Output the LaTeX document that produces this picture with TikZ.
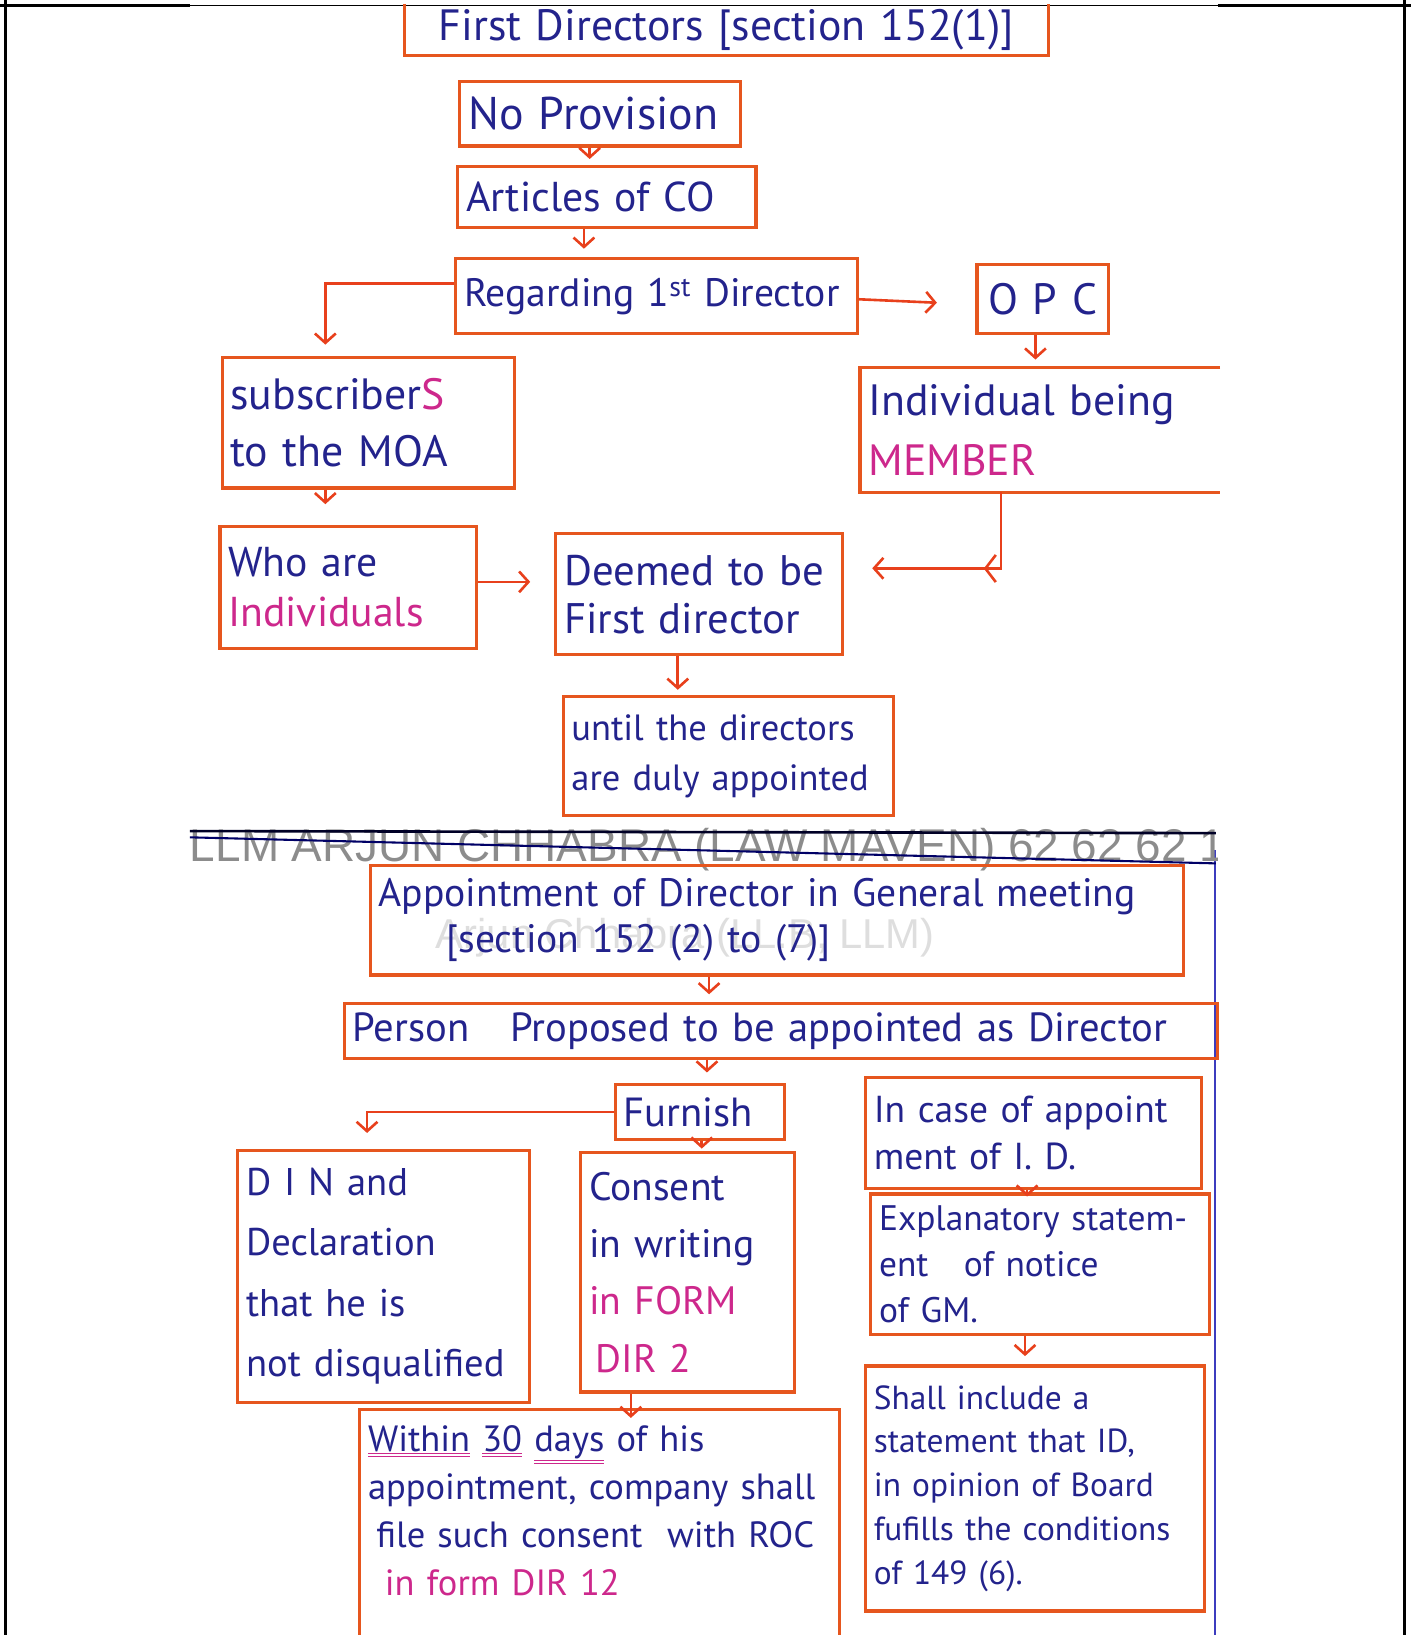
\documentclass[tikz,border=0pt]{standalone}
\usepackage{fontspec}
\setmainfont{PT Sans}
\newfontfamily\wmfont{Liberation Sans}
\usetikzlibrary{arrows.meta,calc}
\definecolor{boxc}{RGB}{230,86,30}
\definecolor{arrc}{RGB}{232,64,28}
\definecolor{ink}{RGB}{35,35,140}
\definecolor{mag}{RGB}{205,40,140}
\definecolor{marg}{RGB}{60,60,190}
\definecolor{wmc}{RGB}{140,140,140}
\newcommand\fs[2]{\fontsize{#1}{#2}\selectfont}
\newcommand\dul[1]{{\color{mag}\underline{\underline{\color{ink}#1}}}}
\tikzset{
  box/.style={draw=boxc, line width=3pt, rectangle, inner xsep=8pt, inner ysep=0pt, text=ink, align=left},
  obox/.style={rectangle, inner xsep=8pt, inner ysep=0pt, text=ink, align=left},
  edge/.style={draw=boxc, line width=3pt},
  arr/.style={draw=arrc, line width=2.5pt, -{Straight Barb[length=9pt,width=20pt,line width=2.5pt]}},
  frame/.style={draw=black, line width=3pt}
}
\begin{document}
\begin{tikzpicture}[x=1pt,y=-1pt]
\useasboundingbox (0,0) rectangle (1353,1568);
\coordinate (pagebot) at (0,1572);
% page frame
\draw[frame] (5,0) -- (5,1568);
\draw[frame] (1347,0) -- (1347,1568);
\draw[frame] (0,5) -- (182,5);
\draw[frame] (1168,5) -- (1353,5);
\draw[black, line width=1pt] (182,5) -- (1168,5);
% notebook margin line
\draw[marg, line width=1.5pt] (1165,815) -- (1165,1568);
% watermarks
\begin{scope}
\clip (180,770) rectangle (1168,845);
\node[anchor=base west, inner sep=0pt, text=wmc, font=\wmfont\fs{44}{50}] (wma) at (182,826) {LLM ARJUN CHHABRA (LAW MAVEN) 62 62 62 14};
\end{scope}
\draw[black!85!blue, line width=2.5pt] (182,797) -- (1166,799);
\draw[black!60!blue, line width=2pt] (182,803) -- (1166,828);
\node[text=black!13, font=\wmfont\fs{40}{44}] (wmb) at (657,899) {Arjun Chhabra (LL.B, LLM)};

% ---- first part ----
\node[obox, align=center, text width=601pt, minimum height=49pt, font=\fs{42}{48}] (first) at (696.5,28.5) {First Directors [section 152(1)]};
\draw[edge] (first.north west) -- (first.south west) -- (first.south east) -- (first.north east);

\node[box, text width=253pt, minimum height=62pt, font=\fs{44}{50}] (noprov) at (575.5,109) {No Provision};
\node[box, text width=270pt, minimum height=58pt, font=\fs{40}{46}] (articles) at (582,189) {Articles of CO};
\node[box, text width=369pt, minimum height=72pt, font=\fs{38}{44}] (regarding) at (629.5,284) {Regarding 1\textsuperscript{st} Director};
\node[box, align=center, text width=110pt, minimum height=66pt, font=\fs{42}{48}] (opc) at (1000,287) {O P C};
\node[box, text width=264pt, minimum height=125pt, font=\fs{42}{55}] (subs) at (353,405.5) {subscriber\textcolor{mag}{S}\\to the MOA};
\node[obox, text width=329pt, minimum height=119pt, font=\fs{42}{57}] (indiv) at (997.5,412.5) {Individual being\\\textcolor{mag}{MEMBER}};
\draw[edge] (indiv.north east) -- (indiv.north west) -- (indiv.south west) -- (indiv.south east);
\node[box, text width=230pt, minimum height=117pt, font=\fs{40}{48}] (who) at (334,563.5) {Who are\\\textcolor{mag}{Individuals}};
\node[box, text width=259pt, minimum height=116pt, font=\fs{41}{46}] (deemed) at (670.5,570) {Deemed to be\\First director};
\node[box, text width=301pt, minimum height=114pt, font=\fs{35}{48}] (until) at (698.5,725) {until the directors\\are duly appointed};

% ---- second part ----
\node[box, text width=764pt, minimum height=105pt, font=\fs{38}{44}] (appt) at (745,882.5) {Appointment of Director in General meeting\\\hspace*{65pt}[section 152 (2) to (7)]};
\node[box, text width=822pt, minimum height=53pt, font=\fs{39}{44}] (person) at (749,988.5) {Person\quad Proposed to be appointed as Director};
\node[box, text width=146pt, minimum height=53pt, font=\fs{39}{44}] (furnish) at (671,1066.5) {Furnish};
\node[box, text width=264pt, minimum height=242pt, font=\fs{37}{58}] (din) at (368,1224) {D I N and\\Declaration\\that he is\\not disqualified};
\node[box, text width=189pt, minimum height=230pt, font=\fs{38}{55}] (consent) at (659.5,1220) {Consent\\in writing\\\textcolor{mag}{in FORM}\\\textcolor{mag}{\,DIR 2}};
\node[obox, text width=444pt, minimum height=194pt, font=\fs{35}{46}] (within) at (575,1449) {\dul{Within} \dul{30} \dul{days} of his\\appointment, company shall\\\hspace*{8pt}file such consent\hspace{12pt} with ROC\\\hspace*{16pt}\textcolor{mag}{in form DIR 12}};
\draw[edge] (within.north west |- pagebot) -- (within.north west) -- (within.north east) -- (within.north east |- pagebot);
\node[box, text width=306pt, minimum height=107pt, font=\fs{36}{46}] (incase) at (991,1086.5) {In case of appoint\\ment of I. D.};
\node[box, text width=309pt, minimum height=135pt, font=\fs{34}{44}] (expl) at (997.5,1212.5) {Explanatory statem-\\ent\quad of notice\\of GM.};
\node[box, text width=309pt, minimum height=235pt, font=\fs{32}{42}] (shall) at (992.5,1427.5) {Shall include a\\statement that ID,\\in opinion of Board\\fufills the conditions\\of 149 (6).};

% ---- connectors ----
\draw[arr, shorten >=6pt] ([xshift=-10pt]noprov.south) -- ([xshift=-16.5pt]articles.north);
\draw[arr, shorten >=8pt] ([xshift=-22pt]articles.south) -- ([xshift=-69.5pt]regarding.north);
\draw[arr, shorten >=11pt] ([yshift=12pt]regarding.west) -| ([xshift=-41pt]subs.north);
\draw[arr, shorten >=37pt] ([yshift=-3pt]regarding.east) -- ([yshift=-5pt]opc.west);
\draw[arr, shorten >=8pt] ([xshift=-7pt]opc.south) -- ([xshift=-4.5pt]indiv.north);
\draw[arr, shorten >=20pt] ([xshift=-41pt]subs.south) -- ([xshift=-22pt]who.north);
\draw[arr, shorten >=23pt] ([yshift=5.5pt]who.east) -- ([yshift=12pt]deemed.west);
\draw[arr, shorten >=27pt] ([xshift=-37.5pt]indiv.south) |- ([yshift=25pt]deemed.east);
\coordinate (chev) at ([xshift=-52.5pt,yshift=-73pt]indiv.south);
\draw[arrc, line width=2.5pt] ([shift={(10,-13)}]chev) -- (chev) -- ([shift={(10,13)}]chev);
\draw[arr, shorten >=5pt] ([xshift=-20.5pt]deemed.south) -- ([xshift=-48.5pt]until.north);
\draw[arr, shorten >=7pt] ([xshift=-65pt]appt.south) -- ([xshift=-69pt]person.north);
\draw[arr, shorten >=10pt] ([xshift=-71pt]person.south) -- ([xshift=7pt]furnish.north);
\draw[arr, shorten >=15pt] (furnish.west) -| ([xshift=-16pt]din.north);
\draw[arr, shorten >=2pt] ([xshift=2pt]furnish.south) -- ([xshift=13.5pt]consent.north);
\draw[arr, shorten >=-8pt] ([xshift=-54.5pt]consent.south) -- ([xshift=30pt]within.north);
\draw[arr, shorten >=-4pt] ([xshift=-6pt]incase.south) -- ([xshift=-12.5pt]expl.north);
\draw[arr, shorten >=8pt] ([xshift=-14.5pt]expl.south) -- ([xshift=-9.5pt]shall.north);
\end{tikzpicture}
\end{document}
